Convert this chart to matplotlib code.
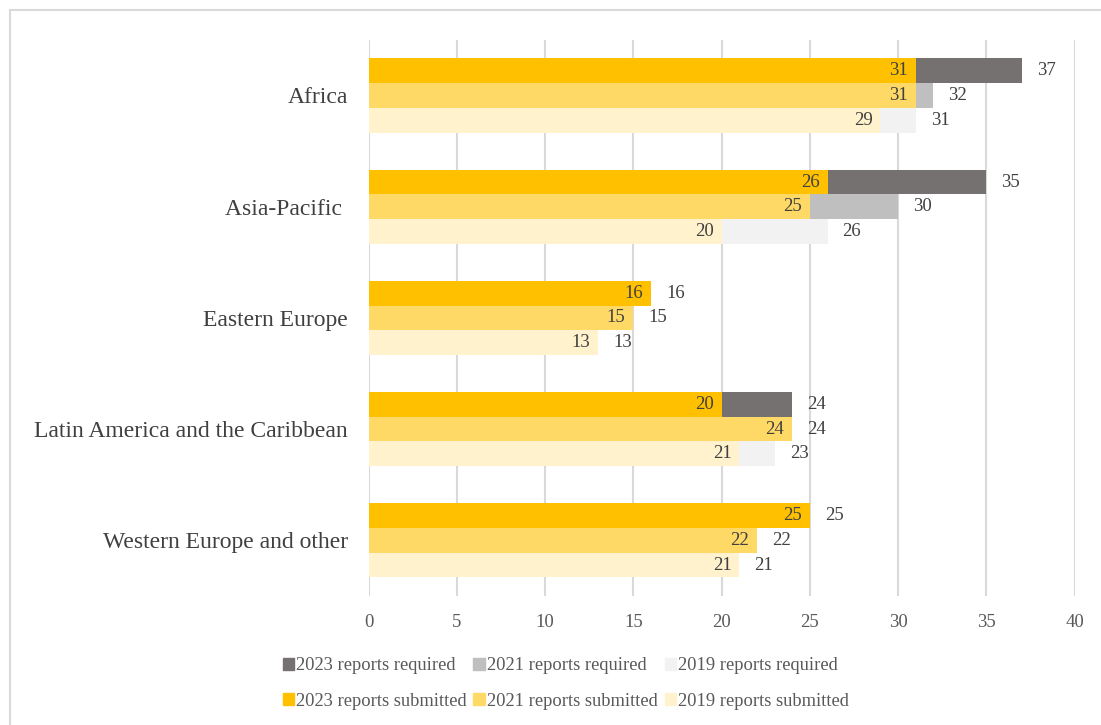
import numpy as np
import matplotlib
matplotlib.use("Agg")
import matplotlib.pyplot as plt
from matplotlib.lines import Line2D
from matplotlib.patches import Patch

plt.rcParams['font.family'] = ['Liberation Serif', 'DejaVu Serif']

regions = ['Africa', 'Asia-Pacific ', 'Eastern Europe',
           'Latin America and the Caribbean', 'Western Europe and other']
years = ['2023', '2021', '2019']

# submitted / required, per year
submitted = {'2023': [31, 26, 16, 20, 25],
             '2021': [31, 25, 15, 24, 22],
             '2019': [29, 20, 13, 21, 21]}
required = {'2023': [37, 35, 16, 24, 25],
            '2021': [32, 30, 15, 24, 22],
            '2019': [31, 26, 13, 23, 21]}

req_colors = {'2023': '#767171', '2021': '#BFBFBF', '2019': '#F2F2F2'}
sub_colors = {'2023': '#FFC000', '2021': '#FFD966', '2019': '#FFF2CC'}

fig = plt.figure(figsize=(11.01, 7.25), dpi=100)
ax = fig.add_axes([0.335, 0.178, 0.641, 0.767])

y = np.arange(len(regions))
h = 0.222
offsets = {'2023': -h, '2021': 0, '2019': h}
txt = '#404040'

for yr in years:
    pos = y + offsets[yr]
    ax.barh(pos, required[yr], height=h, color=req_colors[yr], zorder=2)
    ax.barh(pos, submitted[yr], height=h, color=sub_colors[yr], zorder=3)
    for p, s, r in zip(pos, submitted[yr], required[yr]):
        ax.text(s - 0.45, p, str(s), ha='right', va='center', fontsize=13.5,
                color=txt, zorder=4)
        ax.text(r + 0.85, p, str(r), ha='left', va='center', fontsize=13.5,
                color=txt, zorder=4)

ax.set_xlim(0, 40)
ax.set_ylim(len(regions) - 0.5, -0.5)
ax.set_xticks(np.arange(0, 41, 5))
ax.set_yticks(y)
ax.set_yticklabels(regions, fontsize=17, color='#404040')
ax.tick_params(axis='x', labelsize=13.5, colors='#595959', length=0, pad=13)
ax.tick_params(axis='y', length=0, pad=15)
ax.grid(axis='x', color='#D9D9D9', linewidth=1.5, zorder=0)
ax.set_axisbelow(True)
for s in ax.spines.values():
    s.set_visible(False)

handles = []
for yr in years:
    handles.append(Patch(color=req_colors[yr], label=yr + ' reports required'))
    handles.append(Patch(color=sub_colors[yr], label=yr + ' reports submitted'))
fig.legend(handles=handles, ncol=3, loc='lower center',
           bbox_to_anchor=(0.514, -0.002), frameon=False, fontsize=13.3,
           handlelength=0.6, handleheight=0.6, handletextpad=0.15,
           columnspacing=0.35, labelspacing=1.0, labelcolor='#595959')

# outer chart border (left and top visible)
fig.add_artist(Line2D([0.0095, 0.0095], [0, 0.986], color='#D9D9D9', lw=1.5,
                      transform=fig.transFigure))
fig.add_artist(Line2D([0.0095, 1], [0.986, 0.986], color='#D9D9D9', lw=1.5,
                      transform=fig.transFigure))

fig.savefig('out.png', dpi=100)
